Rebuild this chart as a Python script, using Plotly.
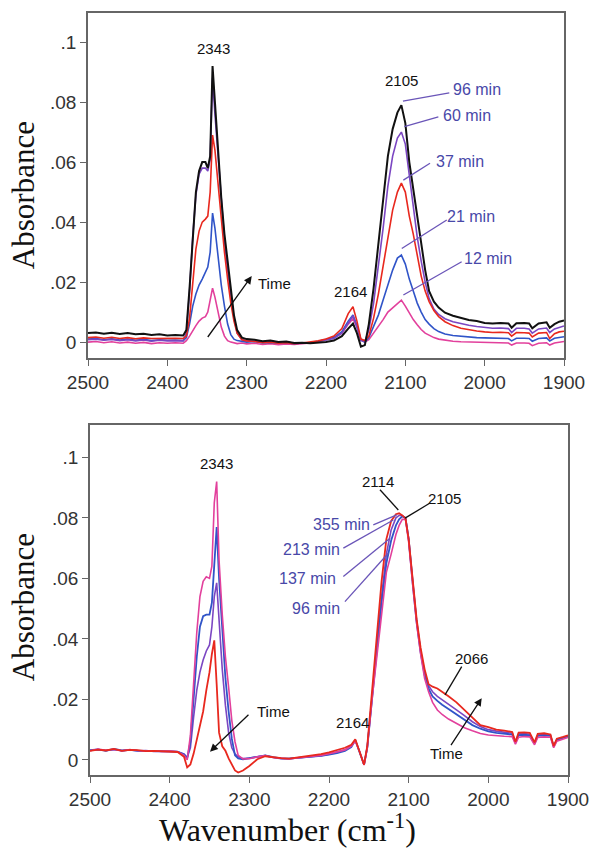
import plotly.graph_objects as go

# ---------------- data: top panel ----------------
W_TOP = [2500, 2490, 2480, 2470, 2460, 2450, 2440, 2430, 2420, 2410,
         2400, 2390, 2380, 2376, 2372, 2368, 2364, 2360, 2356, 2352,
         2349, 2346, 2343, 2340, 2336, 2332, 2328, 2324, 2320, 2316,
         2312, 2306, 2300, 2290, 2280, 2270, 2260, 2250, 2240, 2230,
         2220, 2210, 2200, 2190, 2180, 2172, 2166, 2161, 2156, 2151,
         2146, 2140, 2134, 2128, 2122, 2116, 2110, 2105, 2100, 2095,
         2090, 2085, 2080, 2075, 2070, 2064, 2058, 2050, 2040, 2030,
         2020, 2010, 2000, 1990, 1980, 1970, 1966, 1960, 1950, 1944,
         1940, 1932, 1922, 1918, 1912, 1906, 1900]

T96 = [0.0030, 0.0032, 0.0028, 0.0031, 0.0027, 0.0030, 0.0026, 0.0028, 0.0024, 0.0026,
       0.0022, 0.0024, 0.0022, 0.0040, 0.0180, 0.0360, 0.0500, 0.0570, 0.0600, 0.0600,
       0.0580, 0.0620, 0.0920, 0.0800, 0.0640, 0.0480, 0.0360, 0.0270, 0.0170, 0.0090,
       0.0040, 0.0015, 0.0010, 0.0008, 0.0003, 0.0005, 0.0000, 0.0002, -0.0003, -0.0002,
       -0.0004, -0.0002, 0.0000, 0.0005, 0.0020, 0.0045, 0.0062, 0.0030, -0.0015, -0.0010,
       0.0060, 0.0180, 0.0320, 0.0460, 0.0620, 0.0710, 0.0765, 0.0790, 0.0730, 0.0600,
       0.0510, 0.0410, 0.0320, 0.0240, 0.0170, 0.0135, 0.0115, 0.0098, 0.0088, 0.0080,
       0.0074, 0.0070, 0.0064, 0.0062, 0.0064, 0.0062, 0.0048, 0.0063, 0.0064, 0.0062,
       0.0046, 0.0062, 0.0066, 0.0048, 0.0060, 0.0068, 0.0072]

T60 = [0.0008, 0.0010, 0.0006, 0.0009, 0.0005, 0.0008, 0.0004, 0.0007, 0.0003, 0.0006,
       0.0004, 0.0005, 0.0004, 0.0030, 0.0170, 0.0350, 0.0490, 0.0560, 0.0580, 0.0580,
       0.0570, 0.0610, 0.0880, 0.0760, 0.0610, 0.0460, 0.0340, 0.0240, 0.0150, 0.0080,
       0.0030, 0.0008, 0.0005, 0.0003, 0.0000, 0.0002, -0.0003, 0.0000, -0.0004, -0.0002,
       -0.0002, 0.0002, 0.0006, 0.0012, 0.0030, 0.0065, 0.0088, 0.0050, 0.0005, 0.0002,
       0.0040, 0.0130, 0.0250, 0.0380, 0.0520, 0.0620, 0.0680, 0.0700, 0.0660, 0.0550,
       0.0450, 0.0350, 0.0270, 0.0200, 0.0145, 0.0110, 0.0092, 0.0078, 0.0068, 0.0061,
       0.0056, 0.0052, 0.0048, 0.0046, 0.0047, 0.0045, 0.0032, 0.0046, 0.0046, 0.0044,
       0.0030, 0.0044, 0.0047, 0.0032, 0.0044, 0.0050, 0.0054]

T37 = [0.0015, 0.0017, 0.0013, 0.0016, 0.0012, 0.0015, 0.0011, 0.0014, 0.0012, 0.0013,
       0.0012, 0.0013, 0.0012, 0.0020, 0.0080, 0.0200, 0.0310, 0.0370, 0.0400, 0.0410,
       0.0420, 0.0500, 0.0690, 0.0640, 0.0520, 0.0400, 0.0300, 0.0210, 0.0130, 0.0070,
       0.0030, 0.0008, 0.0004, 0.0002, -0.0002, 0.0000, -0.0004, -0.0002, -0.0005, -0.0003,
       0.0000, 0.0004, 0.0010, 0.0020, 0.0045, 0.0095, 0.0118, 0.0070, 0.0010, 0.0005,
       0.0020, 0.0080, 0.0160, 0.0250, 0.0350, 0.0440, 0.0500, 0.0530, 0.0500, 0.0420,
       0.0360, 0.0290, 0.0220, 0.0170, 0.0135, 0.0105, 0.0085, 0.0068, 0.0055, 0.0046,
       0.0041, 0.0037, 0.0034, 0.0032, 0.0033, 0.0031, 0.0020, 0.0032, 0.0031, 0.0030,
       0.0017, 0.0030, 0.0032, 0.0012, 0.0028, 0.0034, 0.0036]

T21 = [0.0010, 0.0012, 0.0008, 0.0011, 0.0007, 0.0010, 0.0006, 0.0009, 0.0005, 0.0008,
       0.0006, 0.0007, 0.0005, 0.0015, 0.0060, 0.0120, 0.0160, 0.0190, 0.0210, 0.0230,
       0.0250, 0.0300, 0.0430, 0.0380, 0.0280, 0.0190, 0.0120, 0.0060, 0.0025, 0.0010,
       0.0005, 0.0002, 0.0000, 0.0002, -0.0003, -0.0001, -0.0004, -0.0002, -0.0005, -0.0003,
       -0.0002, 0.0003, 0.0008, 0.0015, 0.0035, 0.0070, 0.0090, 0.0055, 0.0008, 0.0000,
       0.0015, 0.0050, 0.0090, 0.0140, 0.0190, 0.0240, 0.0280, 0.0290, 0.0260, 0.0210,
       0.0170, 0.0130, 0.0100, 0.0075, 0.0060, 0.0045, 0.0035, 0.0027, 0.0022, 0.0019,
       0.0017, 0.0015, 0.0014, 0.0013, 0.0014, 0.0012, 0.0004, 0.0013, 0.0013, 0.0012,
       0.0003, 0.0012, 0.0014, 0.0004, 0.0013, 0.0016, 0.0018]

T12 = [0.0000, 0.0002, -0.0002, 0.0001, -0.0003, 0.0000, -0.0004, -0.0001, -0.0005, -0.0002,
       -0.0004, -0.0002, -0.0004, 0.0005, 0.0020, 0.0040, 0.0055, 0.0070, 0.0080, 0.0085,
       0.0100, 0.0140, 0.0180, 0.0150, 0.0100, 0.0050, 0.0020, 0.0005, 0.0000, -0.0003,
       -0.0005, -0.0003, -0.0006, -0.0004, -0.0008, -0.0005, -0.0009, -0.0006, -0.0008, -0.0005,
       -0.0003, 0.0002, 0.0008, 0.0015, 0.0030, 0.0060, 0.0078, 0.0050, 0.0008, 0.0000,
       0.0008, 0.0030, 0.0050, 0.0075, 0.0100, 0.0115, 0.0128, 0.0140, 0.0120, 0.0095,
       0.0075, 0.0058, 0.0042, 0.0030, 0.0022, 0.0015, 0.0010, 0.0006, 0.0003, 0.0001,
       0.0000, -0.0001, -0.0002, -0.0003, -0.0002, -0.0003, -0.0010, -0.0003, -0.0003, -0.0004,
       -0.0012, -0.0004, -0.0002, -0.0010, -0.0003, 0.0000, 0.0002]

# ---------------- data: bottom panel ----------------
W_BOT = [2500, 2490, 2480, 2470, 2460, 2450, 2440, 2430, 2420, 2410,
         2400, 2390, 2382, 2378, 2374, 2370, 2366, 2362, 2358, 2354,
         2350, 2347, 2344, 2341, 2338, 2334, 2330, 2326, 2322, 2318,
         2314, 2308, 2300, 2290, 2280, 2270, 2260, 2250, 2240, 2230,
         2220, 2210, 2200, 2190, 2180, 2172, 2167, 2162, 2156, 2152,
         2146, 2140, 2134, 2128, 2122, 2116, 2112, 2108, 2104, 2100,
         2095, 2090, 2085, 2080, 2075, 2070, 2064, 2058, 2050, 2040,
         2030, 2020, 2010, 2000, 1990, 1980, 1970, 1966, 1962, 1955,
         1948, 1942, 1938, 1930, 1922, 1918, 1914, 1906, 1900]

B96 = [0.0030, 0.0036, 0.0032, 0.0035, 0.0030, 0.0034, 0.0031, 0.0029, 0.0030, 0.0028,
       0.0029, 0.0027, 0.0015, 0.0000, 0.0080, 0.0250, 0.0420, 0.0540, 0.0590, 0.0605,
       0.0600, 0.0640, 0.0850, 0.0920, 0.0660, 0.0480, 0.0340, 0.0240, 0.0130, 0.0060,
       0.0015, 0.0003, 0.0004, 0.0010, 0.0014, 0.0008, 0.0005, 0.0003, 0.0006, 0.0008,
       0.0012, 0.0015, 0.0020, 0.0026, 0.0033, 0.0045, 0.0062, 0.0030, -0.0017, 0.0040,
       0.0200, 0.0340, 0.0500, 0.0620, 0.0680, 0.0745, 0.0775, 0.0795, 0.0795, 0.0720,
       0.0580, 0.0450, 0.0350, 0.0270, 0.0225, 0.0190, 0.0165, 0.0150, 0.0135, 0.0120,
       0.0106, 0.0096, 0.0087, 0.0082, 0.0079, 0.0078, 0.0077, 0.0052, 0.0075, 0.0077,
       0.0076, 0.0050, 0.0074, 0.0076, 0.0075, 0.0040, 0.0062, 0.0070, 0.0074]

B137 = [0.0032, 0.0035, 0.0030, 0.0036, 0.0031, 0.0033, 0.0030, 0.0030, 0.0029, 0.0029,
        0.0028, 0.0027, 0.0018, 0.0005, 0.0060, 0.0200, 0.0340, 0.0440, 0.0475, 0.0480,
        0.0480, 0.0520, 0.0650, 0.0770, 0.0600, 0.0420, 0.0270, 0.0160, 0.0070, 0.0015,
        0.0005, 0.0002, 0.0006, 0.0012, 0.0015, 0.0009, 0.0005, 0.0004, 0.0006, 0.0007,
        0.0010, 0.0013, 0.0017, 0.0022, 0.0030, 0.0042, 0.0065, 0.0030, -0.0016, 0.0040,
        0.0210, 0.0360, 0.0520, 0.0650, 0.0725, 0.0775, 0.0795, 0.0805, 0.0800, 0.0730,
        0.0585, 0.0455, 0.0355, 0.0280, 0.0235, 0.0210, 0.0195, 0.0182, 0.0168, 0.0150,
        0.0130, 0.0115, 0.0103, 0.0094, 0.0089, 0.0087, 0.0084, 0.0056, 0.0082, 0.0083,
        0.0081, 0.0054, 0.0079, 0.0081, 0.0079, 0.0044, 0.0066, 0.0073, 0.0077]

B213 = [0.0031, 0.0034, 0.0031, 0.0034, 0.0030, 0.0033, 0.0030, 0.0031, 0.0028, 0.0029,
        0.0028, 0.0027, 0.0020, 0.0008, 0.0040, 0.0140, 0.0230, 0.0290, 0.0330, 0.0360,
        0.0380, 0.0440, 0.0540, 0.0585, 0.0460, 0.0300, 0.0180, 0.0090, 0.0040, 0.0020,
        0.0010, 0.0004, 0.0006, 0.0011, 0.0014, 0.0008, 0.0004, 0.0004, 0.0006, 0.0008,
        0.0011, 0.0014, 0.0019, 0.0025, 0.0033, 0.0046, 0.0066, 0.0030, -0.0016, 0.0040,
        0.0215, 0.0370, 0.0540, 0.0680, 0.0760, 0.0800, 0.0808, 0.0808, 0.0800, 0.0730,
        0.0590, 0.0460, 0.0360, 0.0290, 0.0245, 0.0225, 0.0210, 0.0198, 0.0185, 0.0165,
        0.0146, 0.0126, 0.0110, 0.0100, 0.0095, 0.0092, 0.0088, 0.0058, 0.0086, 0.0087,
        0.0085, 0.0056, 0.0082, 0.0084, 0.0081, 0.0045, 0.0068, 0.0075, 0.0079]

B355 = [0.0030, 0.0034, 0.0031, 0.0036, 0.0030, 0.0033, 0.0032, 0.0029, 0.0030, 0.0029,
        0.0028, 0.0026, 0.0010, -0.0025, -0.0015, 0.0020, 0.0066, 0.0110, 0.0160, 0.0230,
        0.0290, 0.0350, 0.0395, 0.0250, 0.0090, 0.0045, 0.0030, 0.0005, -0.0015, -0.0035,
        -0.0042, -0.0035, -0.0020, 0.0002, 0.0012, 0.0008, 0.0006, 0.0004, 0.0008, 0.0010,
        0.0015, 0.0019, 0.0025, 0.0032, 0.0040, 0.0050, 0.0068, 0.0030, -0.0016, 0.0045,
        0.0230, 0.0400, 0.0590, 0.0730, 0.0790, 0.0812, 0.0815, 0.0808, 0.0798, 0.0730,
        0.0595, 0.0465, 0.0370, 0.0300, 0.0250, 0.0242, 0.0236, 0.0226, 0.0210, 0.0190,
        0.0165, 0.0140, 0.0115, 0.0108, 0.0100, 0.0097, 0.0092, 0.0060, 0.0090, 0.0091,
        0.0089, 0.0058, 0.0086, 0.0088, 0.0084, 0.0046, 0.0070, 0.0076, 0.0081]

X_TICKS = [2500, 2400, 2300, 2200, 2100, 2000, 1900]
Y_TICKS = [0, 0.02, 0.04, 0.06, 0.08, 0.1]
Y_TICK_TEXT = ["0", ".02", ".04", ".06", ".08", ".1"]

# ---------------- styles ----------------
C_BLACK = "#111111"
C_PURPLE = "#7b46c2"
C_RED = "#e8281e"
C_BLUE = "#3054c8"
C_PINK = "#e2409c"
C_LABEL = "#4848a8"
C_LEADER = "#6a55b8"

fig = go.Figure()

top_series = [(T12, C_PINK, 1.6), (T21, C_BLUE, 1.6), (T60, C_PURPLE, 1.6),
              (T37, C_RED, 1.6), (T96, C_BLACK, 2.0)]
for ys, col, w in top_series:
    fig.add_trace(go.Scatter(x=W_TOP, y=ys, mode="lines", line=dict(color=col, width=w),
                             xaxis="x", yaxis="y", showlegend=False, hoverinfo="skip"))

bot_series = [(B213, C_PURPLE, 1.6), (B137, C_BLUE, 1.8), (B96, C_PINK, 1.6),
              (B355, C_RED, 1.8)]
for ys, col, w in bot_series:
    fig.add_trace(go.Scatter(x=W_BOT, y=ys, mode="lines", line=dict(color=col, width=w),
                             xaxis="x2", yaxis="y2", showlegend=False, hoverinfo="skip"))

axis_common = dict(showline=True, linecolor="#666666", linewidth=1.5, mirror=True,
                   ticks="outside", ticklen=6, tickwidth=1.3, tickcolor="#666666",
                   showgrid=False, zeroline=False, automargin=False,
                   tickfont=dict(family="Liberation Sans, Arial, sans-serif", size=19, color="#333333"))

fig.update_layout(
    template="none",
    width=590, height=851,
    margin=dict(l=88, r=22, t=13, b=76),
    paper_bgcolor="white", plot_bgcolor="white",
    hovermode=False,
    xaxis=dict(domain=[0, 0.99167], anchor="y", range=[2500, 1900],
               tickvals=X_TICKS, **axis_common),
    yaxis=dict(domain=[0.54724, 1], anchor="x", range=[-0.0053, 0.1097],
               tickvals=Y_TICKS, ticktext=Y_TICK_TEXT, **axis_common),
    xaxis2=dict(domain=[0.00417, 1], anchor="y2", range=[2500, 1900],
                tickvals=X_TICKS, **axis_common),
    yaxis2=dict(domain=[0, 0.45932], anchor="x2", range=[-0.0050, 0.1107],
                tickvals=Y_TICKS, ticktext=Y_TICK_TEXT, **axis_common),
)

ann = []
sans = "Liberation Sans, Arial, sans-serif"
serif = "Liberation Serif, Times New Roman, serif"


def label(text, x, y, xr, yr, color="#111111", size=15, xanchor="center"):
    ann.append(dict(text=text, x=x, y=y, xref=xr, yref=yr, showarrow=False,
                    xanchor=xanchor, yanchor="middle",
                    font=dict(family=sans, size=size, color=color)))


def leader(x0, y0, x1, y1, xr, yr, color=C_LEADER):
    fig.add_shape(type="line", x0=x0, y0=y0, x1=x1, y1=y1, xref=xr, yref=yr,
                  line=dict(color=color, width=1.3))


def arrow(xt, yt, xh, yh, xr, yr):
    ann.append(dict(text="", x=xh, y=yh, ax=xt, ay=yt, xref=xr, yref=yr,
                    axref=xr, ayref=yr, showarrow=True, arrowhead=2,
                    arrowsize=1.2, arrowwidth=1.3, arrowcolor="#111111"))


# top panel labels
label("2343", 2342.4, 0.0980, "x", "y")
label("2105", 2104.6, 0.0873, "x", "y")
label("2164", 2169.7, 0.0168, "x", "y")
label("Time", 2288, 0.0196, "x", "y", xanchor="left")
arrow(2350.4, 0.0012, 2293.6, 0.0220, "x", "y")

top_times = [("96 min", 2042.4, 0.0842, 2103, 0.0803, 2044.6, 0.0831),
             ("60 min", 2055.0, 0.0757, 2101.3, 0.0718, 2058.4, 0.0751),
             ("37 min", 2063.8, 0.0601, 2102.5, 0.0540, 2068.9, 0.0596),
             ("21 min", 2050.0, 0.0418, 2104.5, 0.0312, 2047.8, 0.0407),
             ("12 min", 2028.6, 0.0279, 2102.5, 0.0157, 2029.0, 0.0268)]
for t, lx, ly, x0, y0, x1, y1 in top_times:
    label(t, lx, ly, "x", "y", color=C_LABEL, size=16, xanchor="left")
    leader(x0, y0, x1, y1, "x", "y")

# bottom panel labels
label("2343", 2341.0, 0.0981, "x2", "y2")
label("2114", 2138.1, 0.0920, "x2", "y2")
leader(2136, 0.0893, 2113, 0.0826, "x2", "y2", color="#111111")
label("2105", 2054.4, 0.0865, "x2", "y2")
leader(2073.2, 0.0849, 2104.6, 0.0799, "x2", "y2", color="#111111")
label("2164", 2170.0, 0.0125, "x2", "y2")
label("2066", 2020.9, 0.0336, "x2", "y2")
leader(2033.4, 0.0308, 2054.4, 0.0215, "x2", "y2", color="#111111")
label("Time", 2052.3, 0.0022, "x2", "y2")
arrow(2048.1, 0.0044, 2008.3, 0.0204, "x2", "y2")
label("Time", 2293.0, 0.0160, "x2", "y2", xanchor="left")
arrow(2299.2, 0.0154, 2349.4, 0.0027, "x2", "y2")

bot_times = [("355 min", 2146.4, 0.0777, 2144.4, 0.0777, 2115.0, 0.0810),
             ("213 min", 2184.0, 0.0694, 2182.0, 0.0700, 2119.3, 0.0793),
             ("137 min", 2188.4, 0.0601, 2182.0, 0.0606, 2123.4, 0.0733),
             ("96 min", 2184.0, 0.0501, 2180.0, 0.0523, 2125.6, 0.0683)]
for t, lx, ly, x0, y0, x1, y1 in bot_times:
    label(t, lx, ly, "x2", "y2", color=C_LABEL, size=16, xanchor="right")
    leader(x0, y0, x1, y1, "x2", "y2")

# axis titles
for yp in (0.7612, 0.2205):
    ann.append(dict(text="Absorbance", x=-0.133, y=yp, xref="paper", yref="paper",
                    showarrow=False, textangle=-90, xanchor="center", yanchor="middle",
                    font=dict(family=serif, size=31, color="#111111")))
ann.append(dict(text="Wavenumber (cm<sup>-1</sup>)", x=0.4146, y=-0.0985,
                xref="paper", yref="paper", showarrow=False,
                xanchor="center", yanchor="bottom",
                font=dict(family=serif, size=32, color="#111111")))

fig.update_layout(annotations=ann)
fig.write_html("out.html", config={"displayModeBar": False},
               post_script="document.body.style.margin='0';document.body.style.overflow='hidden';")
